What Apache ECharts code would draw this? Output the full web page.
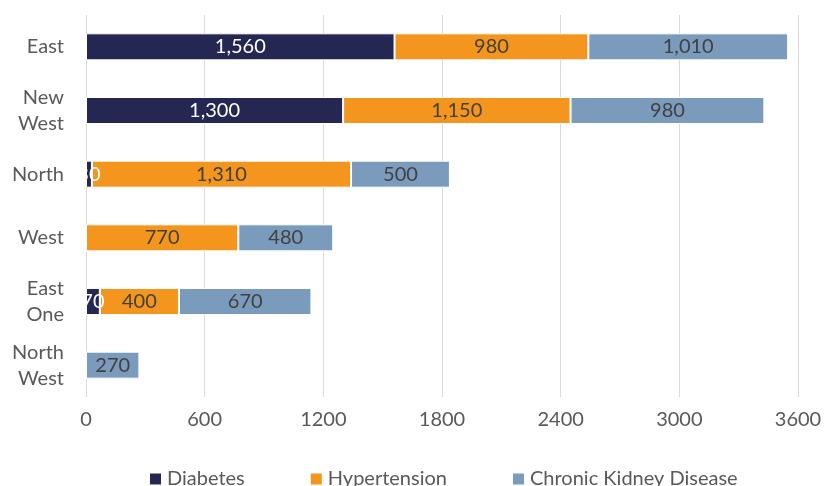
<!DOCTYPE html>
<html lang="en">
<head>
  <meta charset="UTF-8">
  <title>Conditions by region</title>
  <style>
    html, body { margin: 0; padding: 0; background: #fff; }
    #myChart { width: 825px; height: 486px; }
  </style>
</head>
<body>
  <div id="myChart"></div>
  <script src="https://cdn.jsdelivr.net/npm/echarts@6/dist/echarts.min.js"></script>
  <script>
    const regions = ['East', 'New\nWest', 'North', 'West', 'East\nOne', 'North\nWest'];
    const diabetes = [1560, 1300, 30, 0, 70, 0];
    const hypertension = [980, 1150, 1310, 770, 400, 0];
    const kidney = [1010, 980, 500, 480, 670, 270];
    const xTicks = [0, 600, 1200, 1800, 2400, 3000, 3600];

    const font = 'Lato';
    const myChart = echarts.init(document.getElementById('myChart'));

    function barSeries(name, data, color, labelColor) {
      return {
        name,
        type: 'bar',
        stack: 'total',
        data,
        barWidth: 27,
        itemStyle: { color, borderColor: '#fff', borderWidth: 1 },
        label: {
          show: true,
          position: 'inside',
          color: labelColor,
          fontFamily: font,
          fontSize: 20,
          formatter: p => p.value ? p.value.toLocaleString('en-US') : ''
        }
      };
    }

    const option = {
      backgroundColor: '#fff',
      animation: false,
      grid: { left: 86, right: 27, top: 15, bottom: 89 },
      legend: {
        top: 464,
        left: 143,
        itemWidth: 13,
        itemHeight: 13,
        itemGap: 64,
        icon: 'rect',
        textStyle: { color: '#595959', fontFamily: font, fontSize: 20 },
        data: ['Diabetes', 'Hypertension', 'Chronic Kidney Disease']
      },
      xAxis: {
        type: 'value',
        min: xTicks[0],
        max: xTicks[xTicks.length - 1],
        interval: 600,
        axisLine: { show: false },
        axisTick: { show: false },
        splitLine: { lineStyle: { color: '#d9d9d9', width: 1 } },
        axisLabel: {
          color: '#595959', fontFamily: font, fontSize: 20, margin: 13,
          formatter: v => String(v)
        }
      },
      yAxis: {
        type: 'category',
        inverse: true,
        data: regions,
        axisLine: { show: false },
        axisTick: { show: false },
        axisLabel: {
          color: '#595959', fontFamily: font, fontSize: 20,
          lineHeight: 26, align: 'right', margin: 22
        }
      },
      series: [
        barSeries('Diabetes', diabetes, '#232751', '#fff'),
        barSeries('Hypertension', hypertension, '#f4961e', '#404040'),
        barSeries('Chronic Kidney Disease', kidney, '#7b9bbd', '#404040')
      ]
    };
    myChart.setOption(option);
  </script>
</body>
</html>
